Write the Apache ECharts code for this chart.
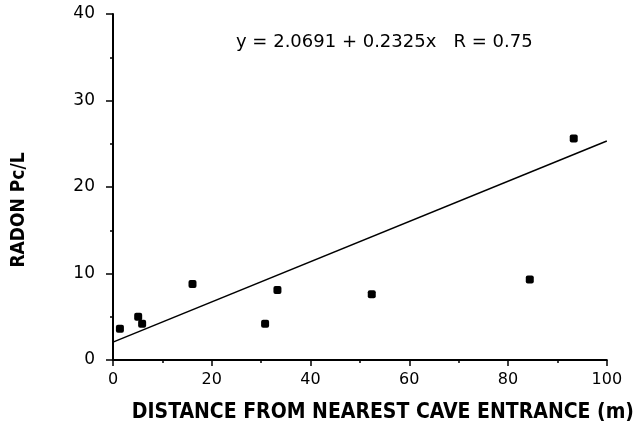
<!DOCTYPE html>
<html>
<head>
<meta charset="utf-8">
<script src="https://cdn.jsdelivr.net/npm/echarts@6/dist/echarts.min.js"></script>
<style>
    html, body { margin: 0; padding: 0; background: #fff; }
    #chart { width: 637px; height: 445px; }
</style>
</head>
<body>
<div id="chart"></div>
<script>
// 测点数据：距洞口距离 (m) 与氡浓度
var distance = [1.4, 5.1, 5.9, 16.1, 30.8, 33.3, 52.4, 84.4, 93.3];
var radon = [3.6, 5.0, 4.2, 8.8, 4.2, 8.1, 7.6, 9.3, 25.6];

// 回归线参数
var intercept = 2.0691;
var slope = 0.2325;
var fitX = [0, 100];
var fitLabel = 'y = 2.0691 + 0.2325x   R = 0.75';

var font = 'DejaVu Sans';

var points = distance.map(function (d, i) {
    return [d, radon[i]];
});
var fitLine = fitX.map(function (x) {
    return [x, intercept + slope * x];
});

var chart = echarts.init(document.getElementById('chart'));
var option = {
    backgroundColor: '#fff',
    animation: false,
    title: {
        text: fitLabel,
        left: 231,
        top: 28,
        textStyle: {
            fontFamily: font,
            fontWeight: 'normal',
            fontSize: 18,
            color: '#000'
        }
    },
    grid: {
        left: 113,
        right: 30,
        top: 14,
        bottom: 85
    },
    xAxis: {
        type: 'value',
        min: 0,
        max: 100,
        interval: 20,
        name: 'DISTANCE FROM NEAREST CAVE ENTRANCE (m)',
        nameLocation: 'middle',
        nameGap: 42,
        nameTextStyle: {
            fontFamily: 'DejaVu Sans Condensed',
            fontWeight: 'bold',
            fontSize: 21,
            color: '#000',
            padding: [0, 0, 0, 46]
        },
        axisLine: { lineStyle: { color: '#000', width: 2 } },
        axisTick: { length: 6, lineStyle: { color: '#000', width: 1.5 } },
        minorTick: { show: true, splitNumber: 2, length: 3, lineStyle: { color: '#000', width: 1.5 } },
        axisLabel: { margin: 12, fontFamily: font, fontSize: 16, color: '#000' },
        splitLine: { show: false }
    },
    yAxis: {
        type: 'value',
        min: 0,
        max: 40,
        interval: 10,
        name: 'RADON Pc/L',
        nameLocation: 'middle',
        nameGap: 84,
        nameRotate: 90,
        nameTextStyle: {
            fontFamily: 'DejaVu Sans Condensed',
            fontWeight: 'bold',
            fontSize: 19,
            color: '#000',
            padding: [0, 46, 0, 0]
        },
        axisLine: { show: true, lineStyle: { color: '#000', width: 2 } },
        axisTick: { show: true, length: 7, lineStyle: { color: '#000', width: 1.5 } },
        minorTick: { show: true, splitNumber: 2, length: 3, lineStyle: { color: '#000', width: 1.5 } },
        axisLabel: { margin: 18, fontFamily: font, fontSize: 17, color: '#000' },
        splitLine: { show: false }
    },
    series: [{
        type: 'scatter',
        data: points,
        symbol: 'roundRect',
        symbolSize: 8,
        itemStyle: { color: '#000', opacity: 1 }
    }, {
        type: 'line',
        data: fitLine,
        showSymbol: false,
        lineStyle: { color: '#000', width: 1.5 }
    }]
};
chart.setOption(option);
</script>
</body>
</html>
